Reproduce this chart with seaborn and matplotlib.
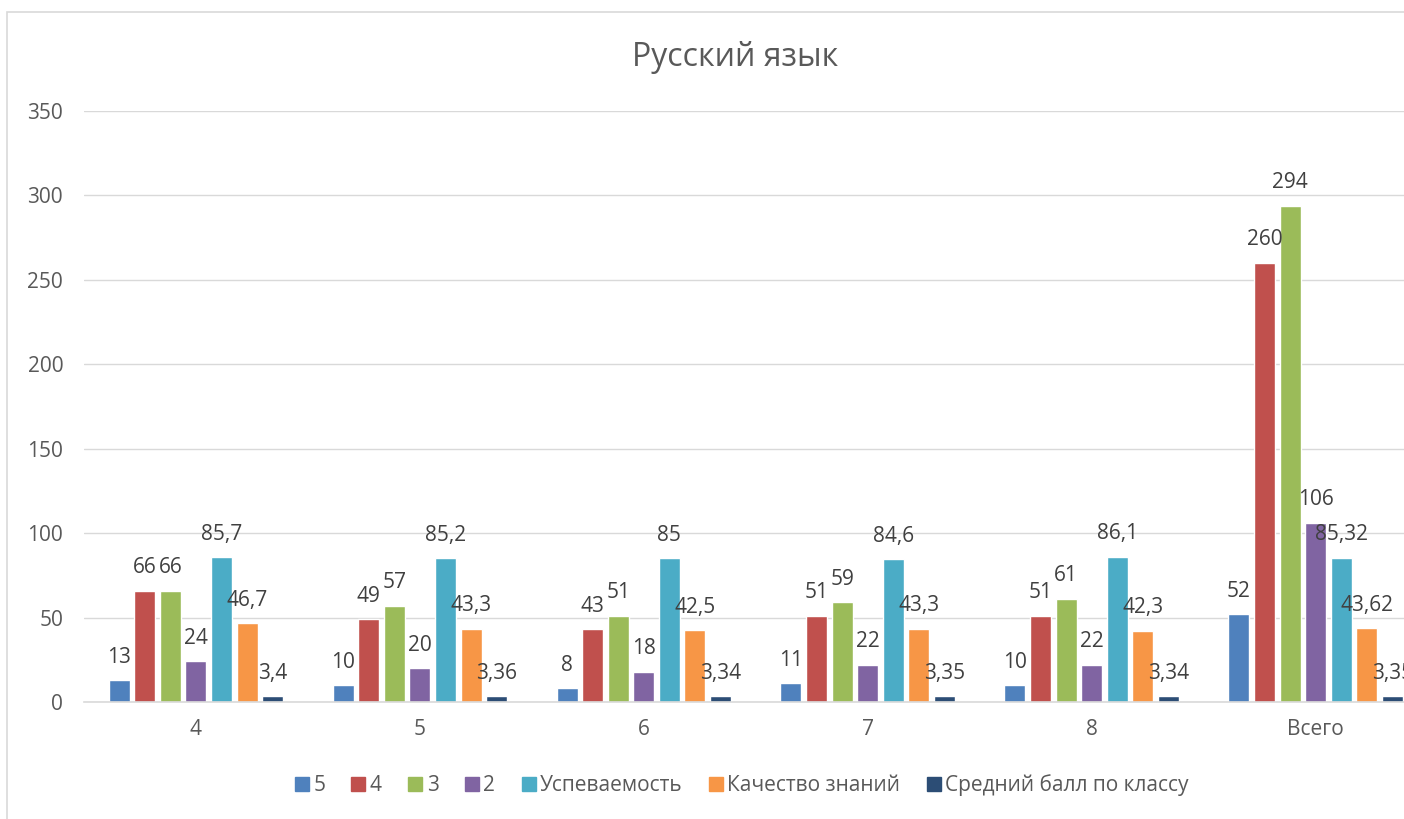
import pandas as pd
import matplotlib.pyplot as plt
import seaborn as sns
from matplotlib.patches import Rectangle
from matplotlib.lines import Line2D

# data
classes = ['4', '5', '6', '7', '8', 'Всего']
series = ['5', '4', '3', '2', 'Успеваемость', 'Качество знаний', 'Средний балл по классу']
grade5 = [13, 10, 8, 11, 10, 52]
grade4 = [66, 49, 43, 51, 51, 260]
grade3 = [66, 57, 51, 59, 61, 294]
grade2 = [24, 20, 18, 22, 22, 106]
uspev = [85.7, 85.2, 85, 84.6, 86.1, 85.32]
kachestvo = [46.7, 43.3, 42.5, 43.3, 42.3, 43.62]
sredniy = [3.4, 3.36, 3.34, 3.35, 3.34, 3.35]
colors = ['#4F81BD', '#C0504D', '#9BBB59', '#8064A2', '#4BACC6', '#F79646', '#2C4D75']

all_values = [grade5, grade4, grade3, grade2, uspev, kachestvo, sredniy]
rows = []
for name, vals in zip(series, all_values):
    for cls, v in zip(classes, vals):
        rows.append({'class': cls, 'series': name, 'value': v})
df = pd.DataFrame(rows)

sns.set_style('white')
plt.rcParams['font.family'] = ['Open Sans', 'DejaVu Sans']
text_color = '#595959'

fig = plt.figure(figsize=(14.04, 8.19), dpi=100)
ax = fig.add_axes([0.0598, 0.1429, 0.957, 0.7216])

sns.barplot(data=df, x='class', y='value', hue='series', hue_order=series,
            palette=colors, saturation=1, width=0.8, gap=0.18, ax=ax, legend=False)

# data labels with decimal comma
for cont, vals in zip(ax.containers, all_values):
    labels = [f'{v:g}'.replace('.', ',') for v in vals]
    ax.bar_label(cont, labels=labels, padding=9, fontsize=15, color='#404040')

ax.set_ylim(0, 350)
ax.set_yticks(range(0, 351, 50))
ax.set_xlim(-0.5, 5.5)
ax.grid(axis='y', color='#D9D9D9', linewidth=1)
ax.set_axisbelow(True)
for side in ['top', 'right', 'left']:
    ax.spines[side].set_visible(False)
ax.spines['bottom'].set_color('#D9D9D9')
ax.spines['bottom'].set_linewidth(1.2)
ax.tick_params(axis='y', length=0, pad=15, labelsize=15, labelcolor=text_color)
ax.tick_params(axis='x', length=0, pad=12, labelsize=15, labelcolor=text_color)
ax.set_xlabel('')
ax.set_ylabel('')

fig.text(735 / 1404, 1 - 58 / 819, 'Русский язык', ha='center', va='center',
         fontsize=23, color=text_color)

handles = [Line2D([0], [0], marker='s', linestyle='', markersize=10,
                  markerfacecolor=c, markeredgecolor=c) for c in colors]
fig.legend(handles, series, loc='center', bbox_to_anchor=(740 / 1404, 1 - 785 / 819),
           ncol=7, frameon=False, fontsize=15, labelcolor=text_color,
           handletextpad=0.05, columnspacing=1.1, handlelength=1.0)

# outer chart border
fig.patches.append(Rectangle((7 / 1404, -0.05), 1.2, 1.05 - 12 / 819,
                             transform=fig.transFigure, fill=False,
                             edgecolor='#D9D9D9', linewidth=1.2))

fig.savefig('out.png', dpi=100)
